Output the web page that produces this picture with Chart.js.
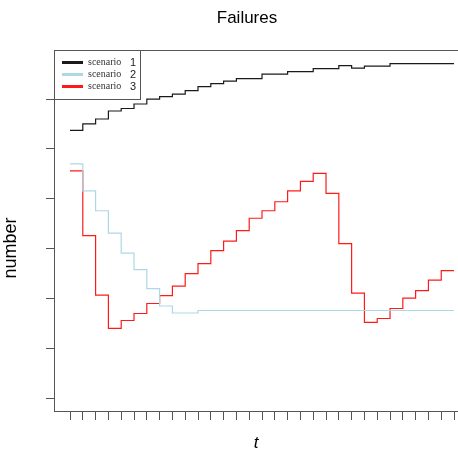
<!DOCTYPE html>
<html><head><meta charset="utf-8">
<script src="https://cdn.jsdelivr.net/npm/chart.js@4/dist/chart.umd.min.js"></script>
<style>html,body{margin:0;padding:0;background:#fff;overflow:hidden}</style>
</head><body>
<canvas id="c" width="458" height="452"></canvas>
<script>
const TITLE = 'Failures';
const X_LABEL = 't';
const Y_LABEL = 'number';
const SERIES_NAMES = ['scenario 1', 'scenario 2', 'scenario 3'];
const T = [1,2,3,4,5,6,7,8,9,10,11,12,13,14,15,16,17,18,19,20,21,22,23,24,25,26,27,28,29,30,31];
const X_TICKS = [1,2,3,4,5,6,7,8,9,10,11,12,13,14,15,16,17,18,19,20,21,22,23,24,25,26,27,28,29,30,31];
const Y_TICKS = [0,1,2,3,4,5,6];
const SCENARIO_1 = [5.37,5.50,5.60,5.76,5.81,5.90,6.00,6.05,6.10,6.17,6.25,6.31,6.36,6.41,6.41,6.50,6.50,6.55,6.55,6.61,6.61,6.67,6.62,6.66,6.66,6.71,6.71,6.71,6.71,6.71,6.71];
const SCENARIO_2 = [4.70,4.16,3.76,3.31,2.91,2.58,2.20,1.85,1.71,1.71,1.76,1.76,1.76,1.76,1.76,1.76,1.76,1.76,1.76,1.76,1.76,1.76,1.76,1.76,1.76,1.76,1.76,1.76,1.76,1.76,1.76];
const SCENARIO_3 = [4.56,3.26,2.07,1.40,1.56,1.70,1.90,2.06,2.25,2.50,2.70,2.96,3.15,3.36,3.61,3.76,3.94,4.16,4.35,4.51,4.11,3.10,2.11,1.52,1.60,1.80,2.01,2.16,2.37,2.56,2.56];
const SERIES = [SCENARIO_1, SCENARIO_2, SCENARIO_3];
const COLORS = ['#1a1a1a', '#add8e6', '#ff1a1a'];
const AXIS = '#555555';

const framePlugin = {
  id: 'frame',
  afterLayout(chart) {
    if (chart.titleBlock) { chart.titleBlock.left = 36; chart.titleBlock.right = 458; }
  },
  afterDraw(chart) {
    const ctx = chart.ctx, a = chart.chartArea;
    ctx.save();
    ctx.strokeStyle = AXIS; ctx.lineWidth = 1;
    ctx.beginPath(); ctx.moveTo(a.left, 50.5); ctx.lineTo(458, 50.5); ctx.stroke();
    // y axis label
    ctx.save();
    ctx.translate(11, 248); ctx.rotate(-Math.PI / 2);
    ctx.font = '18px "Liberation Sans", Arial, sans-serif';
    ctx.fillStyle = '#000'; ctx.textAlign = 'center'; ctx.textBaseline = 'middle';
    ctx.fillText(Y_LABEL, 0, 0);
    ctx.restore();
    // legend
    ctx.fillStyle = '#fff';
    ctx.fillRect(54.5, 50.5, 86, 49);
    ctx.strokeStyle = AXIS; ctx.lineWidth = 1;
    ctx.strokeRect(54.5, 50.5, 86, 49);
    const rows = [62.5, 74.5, 86.5];
    chart.data.datasets.forEach((ds, i) => {
      const y = rows[i];
      ctx.strokeStyle = ds.borderColor; ctx.lineWidth = 3;
      ctx.beginPath(); ctx.moveTo(62, y); ctx.lineTo(83, y); ctx.stroke();
      const parts = ds.label.split(' ');
      ctx.fillStyle = '#333'; ctx.textBaseline = 'middle'; ctx.textAlign = 'left';
      ctx.font = '10px "Liberation Serif", "Times New Roman", serif';
      ctx.fillText(parts[0], 88, y);
      ctx.font = '11px "Liberation Sans", Arial, sans-serif';
      ctx.fillStyle = '#222'; ctx.textAlign = 'center';
      ctx.fillText(parts[1], 133, y);
    });
    ctx.restore();
  }
};

new Chart(document.getElementById('c'), {
  type: 'line',
  data: {
    datasets: SERIES.map((s, i) => ({
      label: SERIES_NAMES[i],
      data: T.map((t, j) => ({ x: t, y: s[j] })),
      borderColor: COLORS[i],
      backgroundColor: COLORS[i],
      borderWidth: 1.2,
      pointRadius: 0,
      stepped: true,
      fill: false
    }))
  },
  options: {
    responsive: false,
    animation: false,
    layout: { padding: 0 },
    plugins: {
      legend: { display: false },
      tooltip: { enabled: false },
      title: {
        display: true, text: TITLE, color: '#000',
        font: { family: '"Liberation Sans", Arial, sans-serif', size: 17, weight: 'normal', lineHeight: 1.2 },
        padding: { top: 8, bottom: 21.6 }
      }
    },
    scales: {
      x: {
        type: 'linear', position: 'bottom', min: -0.25, max: 31.31,
        afterBuildTicks: s => { s.ticks = X_TICKS.map(v => ({ value: v })); },
        afterFit: s => { s.height = 41; },
        ticks: { display: false },
        grid: { display: true, drawOnChartArea: false, drawTicks: true, tickLength: 9, color: AXIS, lineWidth: 1 },
        border: { display: true, color: AXIS, width: 1 },
        title: { display: true, text: X_LABEL, color: '#000', padding: { top: 0, bottom: 0 },
          font: { family: '"Liberation Sans", Arial, sans-serif', size: 17, style: 'italic', lineHeight: 1 } }
      },
      y: {
        type: 'linear', position: 'left', min: -0.255, max: 6.983,
        afterBuildTicks: s => { s.ticks = Y_TICKS.map(v => ({ value: v })); },
        afterFit: s => { s.width = 54; },
        ticks: { display: false },
        grid: { display: true, drawOnChartArea: false, drawTicks: true, tickLength: 8, color: AXIS, lineWidth: 1 },
        border: { display: true, color: AXIS, width: 1 },
        title: { display: false }
      }
    }
  },
  plugins: [framePlugin]
});
</script>
</body></html>
